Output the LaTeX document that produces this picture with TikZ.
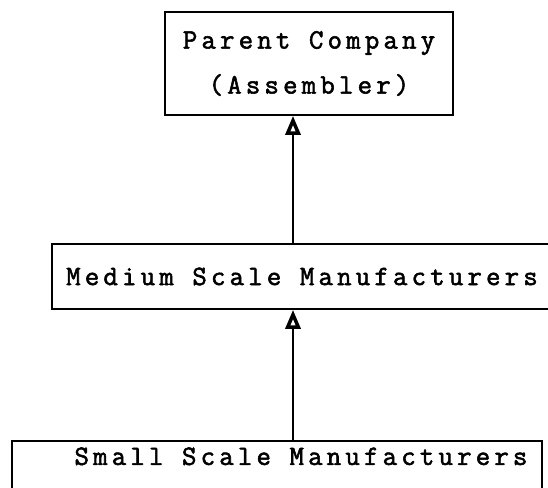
\documentclass[tikz,border=0pt]{standalone}
\usepackage{fontspec}
\usepackage{tikz}
\usetikzlibrary{arrows.meta}
\newfontfamily\typefont{Latin Modern Mono}[LetterSpace=15, FakeBold=2]

\begin{document}
\begin{tikzpicture}[x = 1pt, y = -1pt,
  box/.style = {draw, line width = 1.8pt, inner sep = 0pt, font = \typefont\fontsize{28}{45}\selectfont},
  uparrow/.style = {line width = 2.4pt, -{Triangle[open, length = 19pt, width = 15pt, line width = 3.5pt]}}]
  \useasboundingbox (0,0) rectangle (548,487);

  \coordinate (axis) at (293,0);

  \node[box, align = center, minimum width = 288pt, minimum height = 103pt] (parent) at (309,63.5) {Parent Company\\(Assembler)};
  \node[box, minimum width = 500pt, minimum height = 65pt] (medium) at (302,276.5) {Medium Scale Manufacturers};
  \node[box, anchor = north, minimum width = 530pt, inner ysep = 5pt,
        text height = 19pt, text depth = 40pt] (small) at (277,440) {\hspace{48pt}Small Scale Manufacturers};

  % draw the arrows up the chain
  \foreach \a / \b in {small/medium, medium/parent}
    \draw[uparrow] (\a.north -| axis) -- (\b.south -| axis);
\end{tikzpicture}
\end{document}
